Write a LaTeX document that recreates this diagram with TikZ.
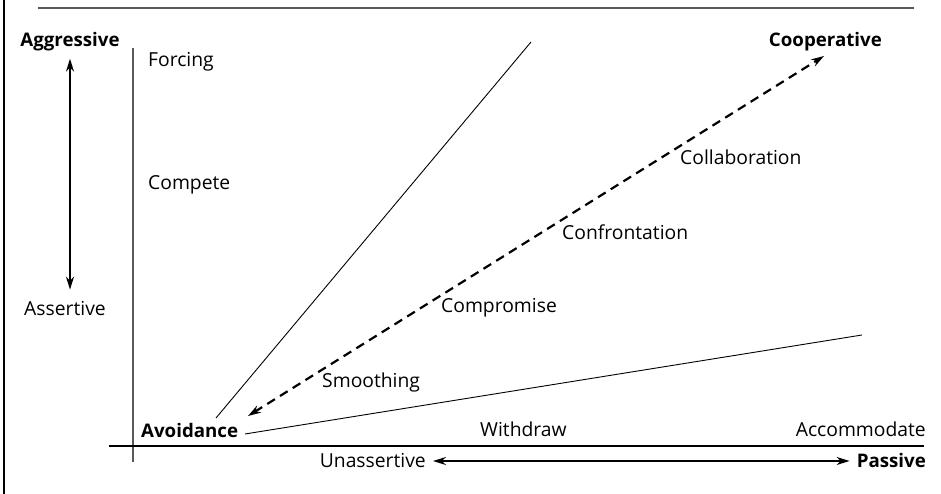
\documentclass[tikz,border=0pt]{standalone}
\usepackage{fontspec}
\setmainfont{Open Sans}
\usetikzlibrary{arrows.meta}
\definecolor{AxisGray}{HTML}{5A5A5A}

\tikzset{
  lbl/.style={inner sep=0pt,anchor=base west},
  lblr/.style={inner sep=0pt,anchor=base east},
  pole/.style={inner sep=0pt,font=\fontsize{18.7}{20}\selectfont\bfseries},
  span/.style={{Stealth[length=13pt,width=8pt]}-{Stealth[length=13pt,width=8pt]},line width=1.8pt}
}

\begin{document}
\begin{tikzpicture}[x=1pt,y=1pt,font=\fontsize{19.3}{21}\selectfont]
  \useasboundingbox (0,0) rectangle (941,494);
  % frame and axes
  \draw[line width=1.5pt] (4,0) -- (4,494);
  \draw[AxisGray,line width=2pt] (38,486) -- (914,486);
  \draw[AxisGray,line width=2pt] (133,446) -- (133,32);
  \draw[line width=1.1pt] (109,48) -- (924,48);

  % labels
  \node[pole,anchor=base] (aggr) at (70,447) {Aggressive};
  \node[lbl] (forcing) at (148,427) {Forcing};
  \node[lbl] (compete) at (148,304) {Compete};
  \node[inner sep=0pt,anchor=base] (assert) at (65,178) {Assertive};
  \node[pole,anchor=base east] (coop) at (882,447) {Cooperative};
  \node[lbl] (collab) at (680,329) {Collaboration};
  \node[lbl] (confront) at (562,254) {Confrontation};
  \node[lbl] (comprom) at (441,181) {Compromise};
  \node[lbl] (smooth) at (322,106) {Smoothing};
  \node[pole,anchor=base west] (avoid) at (141,56) {Avoidance};
  \node[lbl] (withdraw) at (480,57) {Withdraw};
  \node[lblr] (accom) at (926,57) {Accommodate};
  \node[lblr] (unassert) at (426,26) {Unassertive};
  \node[pole,anchor=base east] (passive) at (926,26) {Passive};

  % region boundaries
  \coordinate (b1s) at (216,76);
  \coordinate (b1e) at (531,452);
  \coordinate (b2s) at (245,60);
  \coordinate (b2e) at (862,159);
  \draw[line width=0.9pt] (b1s) -- (b1e);
  \draw[line width=0.9pt] (b2s) -- (b2e);

  % scales
  \coordinate (ds) at (248,78);
  \coordinate (de) at (824,438);
  \draw[span,line width=2.2pt,dash pattern=on 9pt off 6pt] (ds) -- (de);
  \draw[span] ([yshift=-7pt]aggr.south) -- ([yshift=12pt]aggr.south |- assert.north);
  \draw[span,shorten <=7pt,shorten >=7pt] (unassert.east) -- (passive.west);
\end{tikzpicture}
\end{document}
